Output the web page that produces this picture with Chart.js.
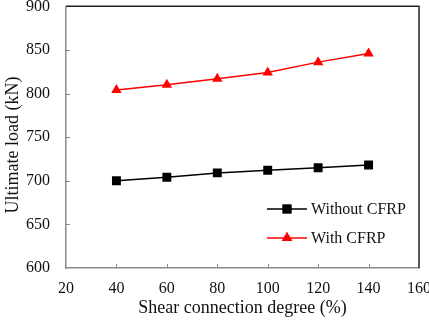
<!DOCTYPE html>
<html>
<head>
<meta charset="utf-8">
<script src="https://cdn.jsdelivr.net/npm/chart.js@4"></script>
<style>
html,body{margin:0;padding:0;background:#fff;}
canvas{display:block;}
</style>
</head>
<body>
<canvas id="c" width="429" height="320"></canvas>
<script>
const shearDegree = [40, 60, 80, 100, 120, 140];
const withoutCFRP = [700, 704, 709, 712, 715, 718];
const withCFRP = [804, 810, 817, 824, 836, 846];
const xTicks = [20, 40, 60, 80, 100, 120, 140, 160];
const yTicks = [600, 650, 700, 750, 800, 850, 900];
const seriesLabels = ['Without CFRP', 'With CFRP'];
const xTitle = 'Shear connection degree (%)';
const yTitle = 'Ultimate load (kN)';

const serif = '"Liberation Serif", "Times New Roman", serif';

const toPts = (arr) => arr.map((v, i) => ({x: shearDegree[i], y: v}));

const decor = {
  id: 'decor',
  afterDatasetsDraw(chart) {
    const {ctx, chartArea: a, scales} = chart;
    ctx.save();
    // top & right frame
    ctx.strokeStyle = '#222';
    ctx.lineWidth = 1.5;
    ctx.beginPath();
    ctx.moveTo(a.left, a.top);
    ctx.lineTo(a.right, a.top);
    ctx.lineTo(a.right, a.bottom);
    ctx.stroke();
    // inward ticks
    ctx.strokeStyle = '#8a8a8a';
    ctx.lineWidth = 1;
    ctx.beginPath();
    xTicks.slice(1, -1).forEach(v => {
      const px = Math.round(scales.x.getPixelForValue(v)) + 0.5;
      ctx.moveTo(px, a.bottom);
      ctx.lineTo(px, a.bottom - 4);
    });
    yTicks.slice(1, -1).forEach(v => {
      const py = Math.round(scales.y.getPixelForValue(v)) + 0.5;
      ctx.moveTo(a.left, py);
      ctx.lineTo(a.left + 4, py);
    });
    ctx.stroke();
    // axis titles
    ctx.fillStyle = '#111';
    ctx.font = '18px ' + serif;
    ctx.textAlign = 'center';
    ctx.textBaseline = 'middle';
    ctx.fillText(xTitle, (a.left + a.right) / 2, 308);
    ctx.translate(13, 145);
    ctx.rotate(-Math.PI / 2);
    ctx.fillText(yTitle, 0, 0);
    ctx.restore();
    // legend
    ctx.save();
    const rows = [209, 238];
    chart.data.datasets.forEach((ds, i) => {
      const y = rows[i];
      ctx.strokeStyle = ds.borderColor;
      ctx.lineWidth = ds.borderWidth;
      ctx.beginPath();
      ctx.moveTo(267, y);
      ctx.lineTo(307, y);
      ctx.stroke();
      ctx.fillStyle = ds.pointBackgroundColor;
      Chart.helpers.drawPoint(ctx, {
        pointStyle: ds.pointStyle, radius: ds.pointRadius, borderWidth: 0
      }, 287, y);
      ctx.fill();
      ctx.fillStyle = '#111';
      ctx.font = '16px ' + serif;
      ctx.textAlign = 'left';
      ctx.textBaseline = 'middle';
      ctx.fillText(ds.label, 311, y + 1);
    });
    ctx.restore();
  }
};

const fixScale = (w, h) => (scale) => {
  if (w != null) scale.width = w;
  if (h != null) scale.height = h;
  scale.paddingLeft = 0; scale.paddingRight = 0;
  scale.paddingTop = 0; scale.paddingBottom = 0;
};

new Chart(document.getElementById('c'), {
  type: 'line',
  data: {
    datasets: [
      {
        label: seriesLabels[0],
        data: toPts(withoutCFRP),
        borderColor: '#000',
        backgroundColor: '#000',
        pointBackgroundColor: '#000',
        pointBorderColor: '#000',
        pointStyle: 'rect',
        pointRadius: 6.3,
        pointBorderWidth: 0,
        borderWidth: 1.5,
        tension: 0
      },
      {
        label: seriesLabels[1],
        data: toPts(withCFRP),
        borderColor: '#ff0000',
        backgroundColor: '#ff0000',
        pointBackgroundColor: '#ff0000',
        pointBorderColor: '#ff0000',
        pointStyle: 'triangle',
        pointRadius: 6,
        pointBorderWidth: 0,
        borderWidth: 1.5,
        tension: 0
      }
    ]
  },
  options: {
    responsive: false,
    animation: false,
    layout: {padding: {top: 6, right: 10, left: 0, bottom: 0}},
    plugins: {legend: {display: false}, tooltip: {enabled: false}},
    scales: {
      x: {
        type: 'linear',
        min: xTicks[0],
        max: xTicks[xTicks.length - 1],
        afterBuildTicks: (s) => { s.ticks = xTicks.map(v => ({value: v})); },
        afterFit: fixScale(null, 52),
        grid: {display: false, drawTicks: false},
        border: {display: true, color: '#8a8a8a', width: 1.5},
        ticks: {
          padding: 11,
          color: '#111',
          font: {family: serif, size: 16},
          maxRotation: 0
        }
      },
      y: {
        type: 'linear',
        min: yTicks[0],
        max: yTicks[yTicks.length - 1],
        afterBuildTicks: (s) => { s.ticks = yTicks.map(v => ({value: v})); },
        afterFit: fixScale(66, null),
        grid: {display: false, drawTicks: false},
        border: {display: true, color: '#8a8a8a', width: 1.5},
        ticks: {
          padding: 16,
          color: '#111',
          font: {family: serif, size: 16}
        }
      }
    }
  },
  plugins: [decor]
});
</script>
</body>
</html>
